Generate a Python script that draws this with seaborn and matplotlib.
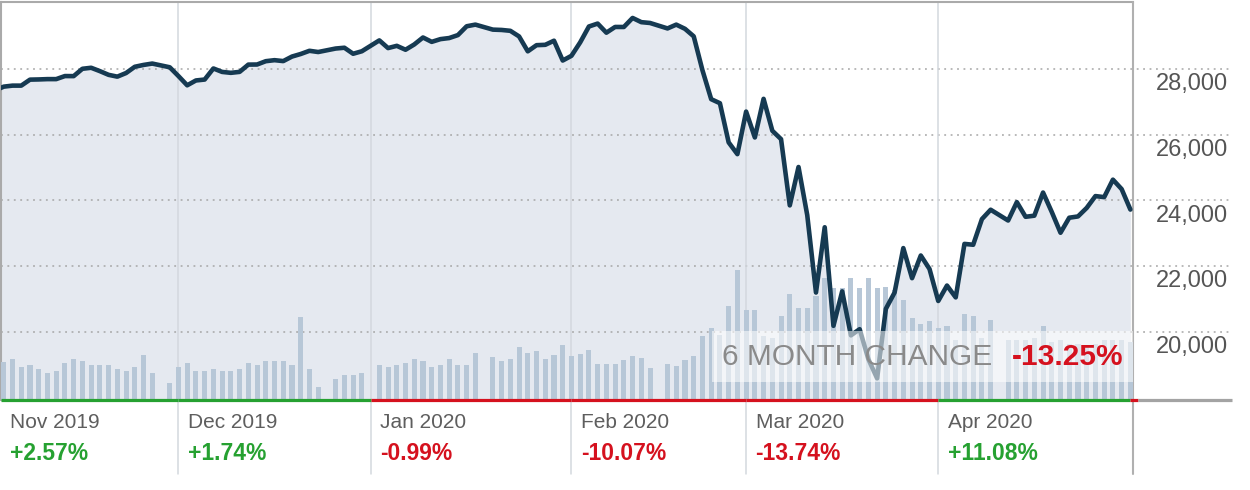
import numpy as np
import matplotlib
matplotlib.use('Agg')
import matplotlib.pyplot as plt
from matplotlib.patches import Rectangle
import seaborn as sns

# Dow Jones daily closes, Nov 2019 - May 2020 (one entry per trading day)
trade_dates = [
    '2019-11-01', '2019-11-04', '2019-11-05', '2019-11-06', '2019-11-07', '2019-11-08',
    '2019-11-11', '2019-11-12', '2019-11-13', '2019-11-14', '2019-11-15',
    '2019-11-18', '2019-11-19', '2019-11-20', '2019-11-21', '2019-11-22',
    '2019-11-25', '2019-11-26', '2019-11-27', '2019-11-29',
    '2019-12-02', '2019-12-03', '2019-12-04', '2019-12-05', '2019-12-06',
    '2019-12-09', '2019-12-10', '2019-12-11', '2019-12-12', '2019-12-13',
    '2019-12-16', '2019-12-17', '2019-12-18', '2019-12-19', '2019-12-20',
    '2019-12-23', '2019-12-24', '2019-12-26', '2019-12-27', '2019-12-30', '2019-12-31',
    '2020-01-02', '2020-01-03', '2020-01-06', '2020-01-07', '2020-01-08', '2020-01-09',
    '2020-01-10', '2020-01-13', '2020-01-14', '2020-01-15', '2020-01-16', '2020-01-17',
    '2020-01-21', '2020-01-22', '2020-01-23', '2020-01-24', '2020-01-27', '2020-01-28',
    '2020-01-29', '2020-01-30', '2020-01-31',
    '2020-02-03', '2020-02-04', '2020-02-05', '2020-02-06', '2020-02-07',
    '2020-02-10', '2020-02-11', '2020-02-12', '2020-02-13', '2020-02-14',
    '2020-02-18', '2020-02-19', '2020-02-20', '2020-02-21',
    '2020-02-24', '2020-02-25', '2020-02-26', '2020-02-27', '2020-02-28',
    '2020-03-02', '2020-03-03', '2020-03-04', '2020-03-05', '2020-03-06',
    '2020-03-09', '2020-03-10', '2020-03-11', '2020-03-12', '2020-03-13',
    '2020-03-16', '2020-03-17', '2020-03-18', '2020-03-19', '2020-03-20',
    '2020-03-23', '2020-03-24', '2020-03-25', '2020-03-26', '2020-03-27',
    '2020-03-30', '2020-03-31',
    '2020-04-01', '2020-04-02', '2020-04-03', '2020-04-06', '2020-04-07', '2020-04-08',
    '2020-04-09', '2020-04-13', '2020-04-14', '2020-04-15', '2020-04-16', '2020-04-17',
    '2020-04-20', '2020-04-21', '2020-04-22', '2020-04-23', '2020-04-24',
    '2020-04-27', '2020-04-28', '2020-04-29', '2020-04-30', '2020-05-01',
]

dow_close = [
    27347, 27462, 27493, 27493, 27675, 27681,
    27691, 27691, 27784, 27782, 28005,
    28036, 27934, 27821, 27766, 27876,
    28066, 28122, 28164, 28051,
    27783, 27503, 27650, 27678, 28015,
    27910, 27882, 27911, 28132, 28135,
    28236, 28267, 28239, 28377, 28455,
    28552, 28515, 28621, 28645, 28462, 28538,
    28869, 28635, 28703, 28584, 28745, 28957,
    28824, 28907, 28940, 29030, 29298, 29348,
    29196, 29186, 29160, 28990, 28536, 28723,
    28734, 28859, 28256,
    28400, 28808, 29291, 29380, 29103,
    29277, 29276, 29551, 29423, 29398,
    29232, 29348, 29220, 28992,
    27961, 27081, 26958, 25767, 25409,
    26703, 25917, 27091, 26121, 25865,
    23851, 25018, 23553, 21201, 23186,
    20189, 21237, 19899, 20087, 19174,
    18592, 20705, 21201, 22552, 21637,
    22327, 21917,
    20944, 21413, 21053, 22680, 22654, 23434,
    23719, 23391, 23950, 23504, 23538, 24242,
    23650, 23019, 23476, 23515, 23775,
    24134, 24102, 24634, 24346, 23724,
]

# volume, millions of shares
volume_m = [
    260, 263, 287, 233, 247, 217,
    191, 205, 261, 287, 273,
    247, 247, 247, 217, 205,
    233, 317, 191, 121,
    233, 261, 205, 205, 217,
    205, 205, 217, 261, 247,
    273, 273, 273, 247, 583,
    217, 93, 149, 177, 177, 191,
    247, 233, 247, 261, 287, 273,
    233, 247, 287, 247, 247, 331,
    303, 273, 287, 373, 331, 345,
    287, 317, 387,
    308, 322, 350, 250, 250,
    250, 280, 308, 294, 224,
    250, 238, 280, 308,
    448, 504, 455, 658, 910,
    630, 630, 448, 434, 588,
    742, 644, 644, 728, 854,
    784, 784, 854, 784, 854,
    784, 791, 770, 700, 574,
    532, 553,
    504, 518, 420, 602, 588, 434,
    560, 420, 420, 420, 434, 518,
    406, 420, 392, 392, 378,
    392, 420, 420, 420, 406,
]

month_starts = ['2019-11-01', '2019-12-02', '2020-01-01', '2020-02-03',
                '2020-03-02', '2020-04-01', '2020-05-01']
month_labels = ['Nov 2019', 'Dec 2019', 'Jan 2020', 'Feb 2020', 'Mar 2020', 'Apr 2020']
month_changes = ['+2.57%', '+1.74%', '-0.99%', '-10.07%', '-13.74%', '+11.08%']
price_ticks = [20000, 22000, 24000, 26000, 28000]
six_month_change = '-13.25%'

LINE = '#163a52'
FILL = '#e5e9f0'
BAR = '#b7c7d7'
GREEN = '#26a131'
RED = '#d5111e'
BORDER = '#aaaaaa'

sns.set_style('white')
plt.rcParams['font.family'] = ['Liberation Sans', 'DejaVu Sans']

# weekday slots: holidays leave an empty slot, weekends do not
start = np.datetime64(trade_dates[0])
x = np.busday_count(start, np.array(trade_dates, dtype='datetime64[D]'))
m_x = np.busday_count(start, np.array(month_starts, dtype='datetime64[D]'))

xmin, xmax = 0.68, 130.3
ymin, ymax = 17933, 30036

fig = plt.figure(figsize=(12.5, 4.9), dpi=100)
ax = fig.add_axes([1 / 1250, 90 / 490, 1132 / 1250, 398 / 490])

# area under the index line
ax.fill_between(x, dow_close, ymin, color=FILL, linewidth=0)

# dotted price grid, running out into the label column
for v in price_ticks:
    ax.plot([0, 1.0875], [v, v], transform=ax.get_yaxis_transform(), clip_on=False,
            color='#a6a6a6', lw=1.1, ls=(0, (1.2, 3.0)), zorder=1)
    ax.annotate(f'{v:,}', xy=(1228 / 1250, v), xycoords=('figure fraction', 'data'),
                xytext=(0, -15.2), textcoords='offset points', ha='right', va='baseline',
                fontsize=17, color='#555555', annotation_clip=False)

# month separators and labels
for i, (lab, chg) in enumerate(zip(month_labels, month_changes)):
    if i > 0:
        ax.plot([m_x[i], m_x[i]], [-0.185, 1], transform=ax.get_xaxis_transform(),
                clip_on=False, color='#d3d8de', lw=1.1, zorder=1)
    lx = max(m_x[i], xmin)
    ax.annotate(lab, xy=(lx, 0), xycoords=('data', 'axes fraction'), xytext=(6.8, -20.3),
                textcoords='offset points', ha='left', va='baseline', fontsize=15,
                color='#5e5e5e', annotation_clip=False)
    ax.annotate(chg, xy=(lx, 0), xycoords=('data', 'axes fraction'), xytext=(6.8, -43.3),
                textcoords='offset points', ha='left', va='baseline', fontsize=16.5,
                fontweight='bold', color=GREEN if chg.startswith('+') else RED,
                annotation_clip=False)

# right border, also running down through the label strip
ax.plot([xmax, xmax], [-0.185, 1], transform=ax.get_xaxis_transform(), clip_on=False,
        color='#b0b0b0', lw=1.5, zorder=3)

ax.set_xlim(xmin, xmax)
ax.set_ylim(ymin, ymax)
ax.set_xticks([])
ax.set_yticks([])
for side in ['top', 'left']:
    ax.spines[side].set_color(BORDER)
    ax.spines[side].set_linewidth(1.5)
ax.spines['right'].set_visible(False)
ax.spines['bottom'].set_visible(False)

# volume bars on their own scale
ax_v = ax.twinx()
sns.barplot(x=x, y=volume_m, native_scale=True, orient='x', width=0.58, color=BAR,
            saturation=1, errorbar=None, linewidth=0, ax=ax_v)
ax_v.set_ylim(0, 2786)
ax_v.set_xlim(xmin, xmax)
ax_v.set_axis_off()

# index line on top
ax_l = ax.twinx()
sns.lineplot(x=x, y=dow_close, color=LINE, linewidth=3.3, ax=ax_l)
ax_l.set_ylim(ymin, ymax)
ax_l.set_xlim(xmin, xmax)
ax_l.set_axis_off()

# coloured baseline, one segment per month
seg_colors = [GREEN if c.startswith('+') else RED for c in month_changes]
seg_colors.append(RED if dow_close[-1] < dow_close[-2] else GREEN)
seg_ends = list(m_x[1:]) + [m_x[-1] + 0.9]
for s, e, c in zip(m_x, seg_ends, seg_colors):
    ax_l.plot([max(s, xmin), e], [ymin, ymin], color=c, lw=2.3, clip_on=False,
              solid_capstyle='butt', zorder=6)
ax_l.plot([m_x[-1] + 0.9, 141.6], [ymin, ymin], color='#a3a3a3', lw=2.3, clip_on=False,
          solid_capstyle='butt', zorder=6)

# six month change box
ax_l.add_patch(Rectangle((0.6278, 0.0452), 0.3722, 0.1284, transform=ax_l.transAxes,
                         facecolor='white', alpha=0.55, linewidth=0, zorder=7))
fig.text(722 / 1250, (490 - 365) / 490, '6 MONTH CHANGE', ha='left', va='baseline',
         fontsize=21.5, color='#8a8a8a')
fig.text(1123 / 1250, (490 - 365) / 490, six_month_change, ha='right', va='baseline',
         fontsize=21.5, fontweight='bold', color=RED)

fig.savefig('out.png', dpi=100)
